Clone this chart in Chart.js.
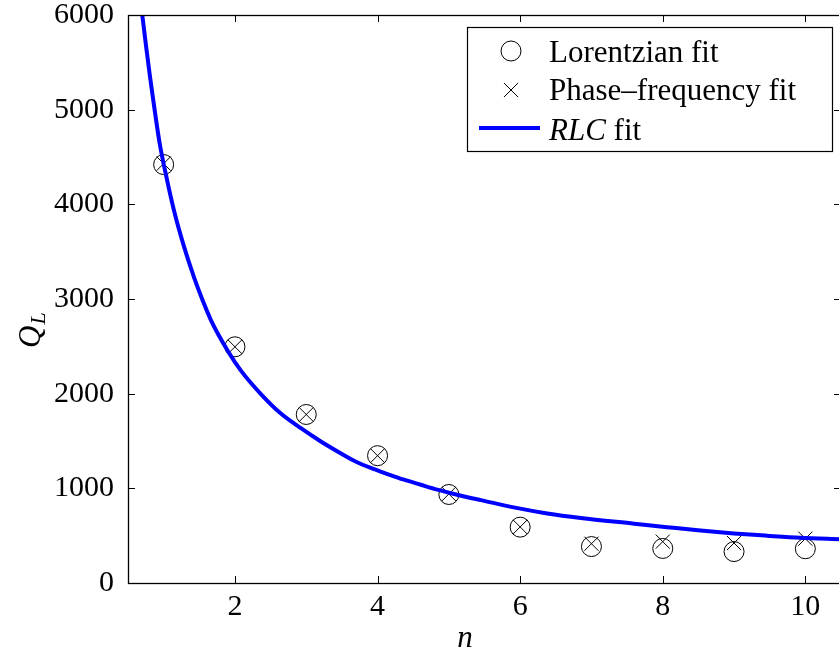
<!DOCTYPE html>
<html>
<head>
<meta charset="utf-8">
<script src="https://cdn.jsdelivr.net/npm/chart.js@4"></script>
<style>
  html, body { margin: 0; padding: 0; background: #fff; overflow: hidden; }
  #wrap { width: 860px; height: 657px; }
</style>
</head>
<body>
<div id="wrap"><canvas id="c"></canvas></div>
<script>
// --- Data ---
const nValues   = [1, 2, 3, 4, 5, 6, 7, 8, 9, 10];
const lorentzQ  = [4420, 2495, 1780, 1345, 935, 590, 385, 365, 332, 362];
const phaseQ    = [4430, 2495, 1780, 1345, 940, 592, 415, 437, 422, 468];

const rlcN = [0.70, 0.75, 0.81, 0.875, 0.945, 1.04, 1.145, 1.275, 1.43, 1.55, 1.664, 1.898,
              2.084, 2.364, 2.644, 2.925, 3.205, 3.439, 3.672, 3.905, 4.139, 4.372, 4.606,
              4.84, 5.073, 5.307, 5.45, 5.91, 6.38, 6.85, 7.60, 8.06, 8.53, 9.00, 9.46, 9.93, 10.5];
const rlcQ = [6000, 5690, 5340, 4990, 4640, 4285, 3935, 3580, 3220, 2980, 2775, 2454,
              2243, 1996, 1790, 1635, 1495, 1390, 1292, 1215, 1151, 1091, 1038,
              986, 940, 898, 875, 799, 735, 687, 627, 590, 554, 524, 500, 478, 463];

const xTicks = [2, 4, 6, 8, 10];
const yTicks = [0, 1000, 2000, 3000, 4000, 5000, 6000];

const FONT = "'Liberation Serif', 'Times New Roman', serif";
const TICK = 7;

const pts = (xs, ys) => xs.map((x, i) => ({x, y: ys[i]}));

// --- Box + inward ticks (MATLAB style) ---
const boxPlugin = {
  id: 'boxPlugin',
  afterDatasetsDraw(chart) {
    const {ctx, chartArea: a, scales: {x, y}} = chart;
    ctx.save();
    ctx.strokeStyle = '#000';
    ctx.lineWidth = 1;
    ctx.beginPath();
    xTicks.forEach(v => {
      const px = Math.round(x.getPixelForValue(v)) + 0.5;
      ctx.moveTo(px, a.bottom); ctx.lineTo(px, a.bottom - TICK);
      ctx.moveTo(px, a.top); ctx.lineTo(px, a.top + TICK);
    });
    yTicks.forEach(v => {
      const py = Math.round(y.getPixelForValue(v)) + 0.5;
      ctx.moveTo(a.left, py); ctx.lineTo(a.left + TICK, py);
      ctx.moveTo(a.right, py); ctx.lineTo(a.right - TICK, py);
    });
    ctx.stroke();
    ctx.lineWidth = 1.3;
    ctx.strokeRect(Math.round(a.left) + 0.5, Math.round(a.top) + 0.5,
                   Math.round(a.right - a.left), Math.round(a.bottom - a.top));
    ctx.restore();
  }
};

// --- Axis titles + legend box ---
const labelPlugin = {
  id: 'labelPlugin',
  afterDraw(chart) {
    const {ctx} = chart;
    ctx.save();
    ctx.fillStyle = '#000';
    ctx.textBaseline = 'alphabetic';

    // x title: n
    ctx.font = `italic 31px ${FONT}`;
    ctx.textAlign = 'center';
    ctx.fillText('n', 465, 647);

    // y title: Q_L (rotated)
    ctx.translate(40, 348);
    ctx.rotate(-Math.PI / 2);
    ctx.textAlign = 'left';
    ctx.font = `italic 31px ${FONT}`;
    ctx.fillText('Q', 0, 0);
    const qw = ctx.measureText('Q').width;
    ctx.font = `italic 22px ${FONT}`;
    ctx.fillText('L', qw + 1, 5);
    ctx.setTransform(1, 0, 0, 1, 0, 0);

    // legend
    const bx = 467, by = 27, bw = 365, bh = 124;
    ctx.fillStyle = '#fff';
    ctx.fillRect(bx, by, bw, bh);
    ctx.strokeStyle = '#000';
    ctx.lineWidth = 1.2;
    ctx.strokeRect(bx + 0.5, by + 0.5, bw, bh);

    const ds = chart.data.datasets;
    const rows = [51, 90, 128];
    const mx = 511, tx = 549;

    ctx.lineWidth = 1;
    ctx.beginPath();
    ctx.arc(mx, rows[0], ds[0].pointRadius, 0, Math.PI * 2);
    ctx.stroke();

    const r = ds[1].pointRadius * Math.SQRT1_2;
    ctx.beginPath();
    ctx.moveTo(mx - r, rows[1] - r); ctx.lineTo(mx + r, rows[1] + r);
    ctx.moveTo(mx - r, rows[1] + r); ctx.lineTo(mx + r, rows[1] - r);
    ctx.stroke();

    ctx.strokeStyle = ds[2].borderColor;
    ctx.lineWidth = ds[2].borderWidth;
    ctx.beginPath();
    ctx.moveTo(479, rows[2]); ctx.lineTo(540, rows[2]);
    ctx.stroke();

    ctx.fillStyle = '#000';
    ctx.textAlign = 'left';
    ctx.font = `31px ${FONT}`;
    ctx.fillText(ds[0].label, tx, 62);
    ctx.fillText(ds[1].label, tx, 100);
    ctx.font = `italic 31px ${FONT}`;
    ctx.fillText('RLC', tx, 140);
    const rw = ctx.measureText('RLC').width;
    ctx.font = `31px ${FONT}`;
    ctx.fillText(' fit', tx + rw, 140);
    ctx.restore();
  }
};

new Chart(document.getElementById('c'), {
  type: 'scatter',
  data: {
    datasets: [
      {
        label: 'Lorentzian fit',
        data: pts(nValues, lorentzQ),
        pointStyle: 'circle',
        pointRadius: 10,
        borderColor: '#000',
        borderWidth: 1,
        backgroundColor: 'rgba(0,0,0,0)',
        order: 1
      },
      {
        label: 'Phase\u2013frequency fit',
        data: pts(nValues, phaseQ),
        pointStyle: 'crossRot',
        pointRadius: 10,
        borderColor: '#000',
        borderWidth: 1,
        order: 1
      },
      {
        label: 'RLC fit',
        data: pts(rlcN, rlcQ),
        showLine: true,
        pointRadius: 0,
        borderColor: '#0000ff',
        borderWidth: 4,
        cubicInterpolationMode: 'monotone',
        order: 0
      }
    ]
  },
  options: {
    responsive: true,
    maintainAspectRatio: false,
    animation: false,
    layout: { padding: { top: 15, right: 19, bottom: 0, left: 0 } },
    plugins: { legend: { display: false }, tooltip: { enabled: false } },
    scales: {
      x: {
        type: 'linear',
        min: 0.5, max: 10.5,
        grid: { display: false, drawTicks: false },
        border: { display: false },
        afterBuildTicks: s => { s.ticks = xTicks.map(v => ({value: v})); },
        afterFit: s => { s.height = 74; s.paddingLeft = 0; s.paddingRight = 0; },
        ticks: { color: '#000', padding: 9, maxRotation: 0,
                 callback: v => String(v),
                 font: { family: FONT, size: 30, lineHeight: 1 } }
      },
      y: {
        type: 'linear',
        min: 0, max: 6000,
        grid: { display: false, drawTicks: false },
        border: { display: false },
        afterBuildTicks: s => { s.ticks = yTicks.map(v => ({value: v})); },
        afterFit: s => { s.width = 128; s.paddingTop = 0; s.paddingBottom = 0; },
        ticks: { color: '#000', padding: 14,
                 callback: v => String(v),
                 font: { family: FONT, size: 30, lineHeight: 1 } }
      }
    }
  },
  plugins: [boxPlugin, labelPlugin]
});
</script>
</body>
</html>
